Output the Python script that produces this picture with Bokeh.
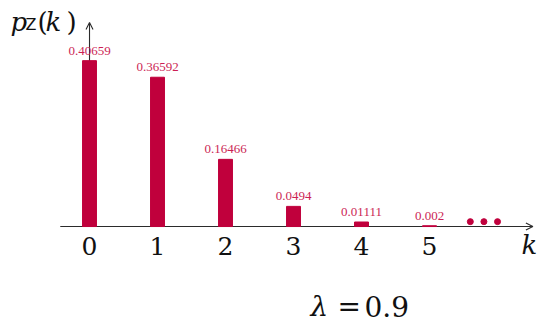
from bokeh.plotting import figure
from bokeh.models import ColumnDataSource, Arrow, OpenHead, Label, Range1d
from bokeh.core.properties import value
from bokeh.embed import file_html
from bokeh.resources import INLINE

# Poisson pmf, lambda = 0.9
k_values = [0, 1, 2, 3, 4, 5]
pmf_values = [0.40659, 0.36592, 0.16466, 0.0494, 0.01111, 0.002]
pmf_labels = ["0.40659", "0.36592", "0.16466", "0.0494", "0.01111", "0.002"]
tick_labels = ["0", "1", "2", "3", "4", "5"]
dots_k = [5.6, 5.8, 6.0]
dots_y = [0.012, 0.012, 0.012]

BAR = "#c0003c"
LABEL = "#cc1f55"
AXIS = "#2b2b2b"
SERIF = "DejaVu Serif"

W, H = 537, 326
p = figure(width=W, height=H, output_backend="svg", toolbar_location=None,
           x_axis_type=None, y_axis_type=None, min_border=0,
           x_range=Range1d(-1.309, 6.588), y_range=Range1d(-0.245, 0.554))
p.grid.visible = False
p.outline_line_color = None
p.background_fill_color = "white"
p.border_fill_color = "white"

# axes drawn as arrows through the origin
p.add_layout(Arrow(end=OpenHead(size=7, line_color=AXIS, line_width=1.1),
                   x_start=-0.43, y_start=0, x_end=6.52, y_end=0,
                   line_color=AXIS, line_width=1.1, level="underlay"))
p.add_layout(Arrow(end=OpenHead(size=7, line_color=AXIS, line_width=1.1),
                   x_start=0, y_start=0, x_end=0, y_end=0.50,
                   line_color=AXIS, line_width=1.1, level="underlay"))

src = ColumnDataSource(dict(k=k_values, p=pmf_values, lab=pmf_labels,
                            tick=tick_labels))
p.vbar(x="k", top="p", bottom=0, width=0.205, source=src,
       fill_color=BAR, line_color=BAR)

p.text(x="k", y="p", text="lab", source=src, text_align="center",
       text_baseline="bottom", y_offset=-6, text_font=value("Liberation Serif"),
       text_font_size="13px", text_color=LABEL)

p.text(x="k", y=0, text="tick", source=src, text_align="center",
       text_baseline="middle", y_offset=19, text_font=value(SERIF),
       text_font_size="25px", text_color="#111111")

p.scatter(x=dots_k, y=dots_y, size=6, fill_color=BAR, line_color=BAR)

def lab(text, x, y, size, style="normal", font=SERIF):
    p.add_layout(Label(text=text, x=x, y=y, x_units="screen", y_units="screen",
                       text_font=font, text_font_size=size,
                       text_font_style=style, text_color="#111111",
                       text_baseline="alphabetic"))

# y-axis title p_Z(k)
lab("p", 10, H - 21, "26px", "italic")
lab("Z", 25, H - 24, "16px", "normal", "DejaVu Sans")
lab("(", 37, H - 21, "26px")
lab("k", 45, H - 21, "26px", "italic")
lab(")", 66, H - 21, "26px")

# x-axis title
lab("k", 521, H - 244, "26px", "italic")

# parameter
lab("λ", 310, H - 306, "28px", "italic")
lab("=", 337, H - 306, "28px")
lab("0.9", 364, H - 306, "28px")

open("out.html", "w").write(file_html(p, INLINE))
